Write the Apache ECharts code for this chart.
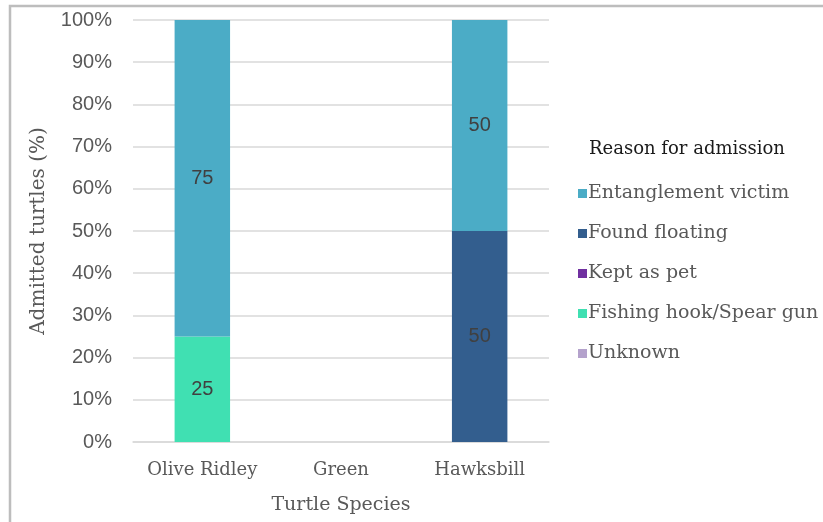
<!DOCTYPE html>
<html>
<head>
  <meta charset="utf-8">
  <title>Turtle admissions</title>
  <script src="https://cdn.jsdelivr.net/npm/echarts@6/dist/echarts.min.js"></script>
  <style>
    body { margin: 0; background: #fff; }
  </style>
</head>
<body>
  <div id="main" style="width: 823px;height:522px;"></div>
  <script type="text/javascript">
    var species = ['Olive Ridley', 'Green', 'Hawksbill'];
    // values per reason, one per species (null = none)
    var unknown = [null, null, null];
    var fishingHook = [25, null, null];
    var keptAsPet = [null, null, null];
    var foundFloating = [null, null, 50];
    var entanglement = [75, null, 50];
    var yTicks = [0, 10, 20, 30, 40, 50, 60, 70, 80, 90, 100];

    var serif = 'DejaVu Serif';
    var sans = 'Liberation Sans';

    var myChart = echarts.init(document.getElementById('main'));

    function bar(name, data, color) {
      return {
        name: name,
        type: 'bar',
        stack: 'total',
        barWidth: '40%',
        data: data,
        itemStyle: { color: color },
        label: {
          show: true,
          position: 'inside',
          color: '#404040',
          fontFamily: sans,
          fontSize: 20
        }
      };
    }

    var option = {
      animation: false,
      graphic: [{
        type: 'rect',
        shape: { x: 10, y: 6, width: 900, height: 700 },
        style: { fill: null, stroke: '#bdbdbd', lineWidth: 2.5 }
      }, {
        type: 'text',
        left: 589,
        top: 140,
        style: {
          text: 'Reason for admission',
          fill: '#1a1a1a',
          font: '18px "' + serif + '"'
        }
      }],
      grid: { left: 133, right: 274, top: 20, bottom: 80 },
      legend: {
        orient: 'vertical',
        left: 573,
        top: 179,
        itemGap: 21,
        itemWidth: 9,
        itemHeight: 9,
        icon: 'rect',
        data: ['Entanglement victim', 'Found floating', 'Kept as pet', 'Fishing hook/Spear gun', 'Unknown'],
        textStyle: { color: '#595959', fontFamily: serif, fontSize: 19, padding: [0, 0, 0, -4] }
      },
      xAxis: {
        type: 'category',
        data: species,
        name: 'Turtle Species',
        nameLocation: 'middle',
        nameGap: 54,
        nameTextStyle: { color: '#595959', fontFamily: serif, fontSize: 19 },
        axisLine: { show: true, lineStyle: { color: '#d9d9d9', width: 1.5 } },
        axisTick: { show: false },
        axisLabel: { color: '#595959', fontFamily: serif, fontSize: 18, margin: 19, interval: 0, hideOverlap: false }
      },
      yAxis: {
        type: 'value',
        min: yTicks[0],
        max: yTicks[yTicks.length - 1],
        interval: 10,
        name: 'Admitted turtles (%)',
        nameLocation: 'middle',
        nameGap: 84,
        nameTextStyle: { color: '#595959', fontFamily: serif, fontSize: 20 },
        axisLine: { show: false },
        axisTick: { show: false },
        splitLine: { lineStyle: { color: '#d9d9d9', width: 1.5 } },
        axisLabel: { color: '#595959', fontFamily: sans, fontSize: 20, margin: 21, formatter: '{value}%' }
      },
      series: [
        bar('Unknown', unknown, '#b4a2cc'),
        bar('Fishing hook/Spear gun', fishingHook, '#40e0b2'),
        bar('Kept as pet', keptAsPet, '#7030a0'),
        bar('Found floating', foundFloating, '#335e8e'),
        bar('Entanglement victim', entanglement, '#4bacc6')
      ]
    };

    myChart.setOption(option);
  </script>
</body>
</html>
